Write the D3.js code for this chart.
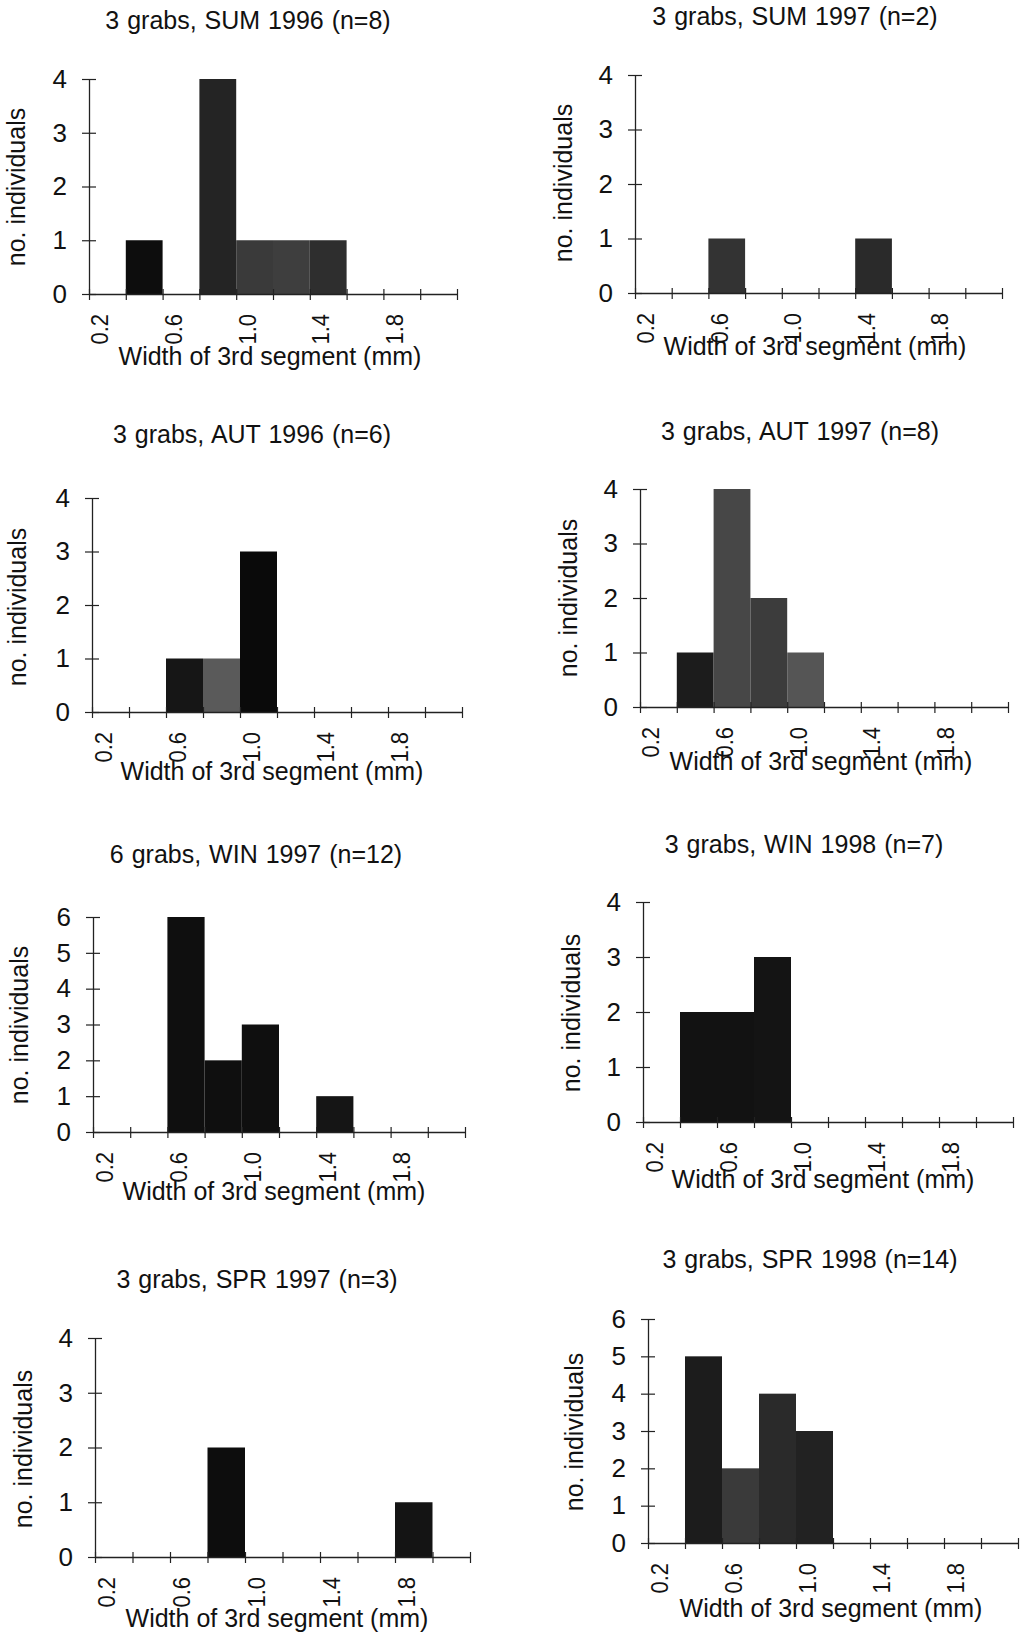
<!DOCTYPE html>
<html>
<head>
<meta charset="utf-8">
<script src="https://cdn.jsdelivr.net/npm/d3@7"></script>
<style>
  html, body { margin: 0; padding: 0; background: #fff; }
  svg { display: block; }
  text { font-family: "Liberation Sans", Arial, Helvetica, sans-serif; fill: #111; }
</style>
</head>
<body>
<svg id="chart" width="1021" height="1636"></svg>
<script>
// ---------------- DATA ----------------
const categories = [0.2, 0.4, 0.6, 0.8, 1.0, 1.2, 1.4, 1.6, 1.8, 2.0]; // bin centres (mm)
const xTickLabels = ["0.2", "0.6", "1.0", "1.4", "1.8"];
const panelTitles = [
  "3 grabs, SUM 1996 (n=8)", "3 grabs, SUM 1997 (n=2)",
  "3 grabs, AUT 1996 (n=6)", "3 grabs, AUT 1997 (n=8)",
  "6 grabs, WIN 1997 (n=12)", "3 grabs, WIN 1998 (n=7)",
  "3 grabs, SPR 1997 (n=3)", "3 grabs, SPR 1998 (n=14)"
];
const sum1996 = [0, 1, 0, 4, 1, 1, 1, 0, 0, 0];
const sum1997 = [0, 0, 1, 0, 0, 0, 1, 0, 0, 0];
const aut1996 = [0, 0, 1, 1, 3, 0, 0, 0, 0, 0];
const aut1997 = [0, 1, 4, 2, 1, 0, 0, 0, 0, 0];
const win1997 = [0, 0, 6, 2, 3, 0, 1, 0, 0, 0];
const win1998 = [0, 2, 2, 3, 0, 0, 0, 0, 0, 0];
const spr1997 = [0, 0, 0, 2, 0, 0, 0, 0, 1, 0];
const spr1998 = [0, 5, 2, 4, 3, 0, 0, 0, 0, 0];
const yMaxima = [4, 4, 4, 4, 6, 4, 4, 6];
const xAxisTitle = "Width of 3rd segment (mm)";
const yAxisTitle = "no. individuals";

const series = [sum1996, sum1997, aut1996, aut1997, win1997, win1998, spr1997, spr1998];

// ---------------- LAYOUT / STYLE ----------------
const layout = [
  { x0: 89,  x1: 457,  y0: 294,  yT: 79,   tX: 248, tY: 29,   xtX: 270, xtY: 365,  ytX: 25,  ytY: 187 },
  { x0: 635, x1: 1002, y0: 293,  yT: 75,   tX: 795, tY: 25,   xtX: 815, xtY: 355,  ytX: 572, ytY: 183 },
  { x0: 92,  x1: 462,  y0: 712,  yT: 498,  tX: 252, tY: 443,  xtX: 272, xtY: 780,  ytX: 26,  ytY: 607 },
  { x0: 640, x1: 1008, y0: 707,  yT: 489,  tX: 800, tY: 440,  xtX: 821, xtY: 770,  ytX: 577, ytY: 598 },
  { x0: 93,  x1: 465,  y0: 1132, yT: 917,  tX: 256, tY: 863,  xtX: 274, xtY: 1200, ytX: 28,  ytY: 1025 },
  { x0: 643, x1: 1013, y0: 1122, yT: 902,  tX: 804, tY: 853,  xtX: 823, xtY: 1188, ytX: 580, ytY: 1013 },
  { x0: 95,  x1: 470,  y0: 1557, yT: 1338, tX: 257, tY: 1288, xtX: 277, xtY: 1627, ytX: 32,  ytY: 1449 },
  { x0: 648, x1: 1018, y0: 1543, yT: 1319, tX: 810, tY: 1268, xtX: 831, xtY: 1617, ytX: 583, ytY: 1432 }
];
const shades = [
  ["#111", "#0d0d0d", "#111", "#242424", "#3a3a3a", "#3e3e3e", "#2e2e2e", "#111", "#111", "#111"],
  ["#333", "#333", "#333", "#333", "#333", "#333", "#2a2a2a", "#333", "#333", "#333"],
  ["#111", "#111", "#161616", "#5a5a5a", "#0a0a0a", "#111", "#111", "#111", "#111", "#111"],
  ["#222", "#1c1c1c", "#474747", "#3c3c3c", "#555", "#222", "#222", "#222", "#222", "#222"],
  ["#0f0f0f", "#0f0f0f", "#0f0f0f", "#0f0f0f", "#0f0f0f", "#0f0f0f", "#151515", "#0f0f0f", "#0f0f0f", "#0f0f0f"],
  ["#111", "#121212", "#121212", "#141414", "#111", "#111", "#111", "#111", "#111", "#111"],
  ["#0d0d0d", "#0d0d0d", "#0d0d0d", "#0d0d0d", "#0d0d0d", "#0d0d0d", "#0d0d0d", "#0d0d0d", "#141414", "#0d0d0d"],
  ["#1a1a1a", "#1c1c1c", "#3a3a3a", "#2a2a2a", "#222", "#1a1a1a", "#1a1a1a", "#1a1a1a", "#1a1a1a", "#1a1a1a"]
];

const svg = d3.select("#chart");
const halfBin = 0.1;

series.forEach((vals, i) => {
  const L = layout[i];
  const g = svg.append("g");

  const x = d3.scaleLinear()
    .domain([categories[0] - halfBin, categories[categories.length - 1] + halfBin])
    .range([L.x0, L.x1]);
  const y = d3.scaleLinear().domain([0, yMaxima[i]]).range([L.y0, L.yT]);

  // bars
  const data = categories.map((c, k) => ({ c, v: vals[k], k }));
  g.selectAll("rect.bar")
    .data(data.filter(d => d.v > 0))
    .join("rect")
    .attr("class", "bar")
    .attr("x", d => x(d.c - halfBin))
    .attr("width", d => x(d.c + halfBin) - x(d.c - halfBin))
    .attr("y", d => y(d.v))
    .attr("height", d => y(0) - y(d.v))
    .attr("fill", d => shades[i][d.k]);

  // x axis (ticks at bin edges)
  const edges = categories.map(c => c - halfBin).concat([categories[categories.length - 1] + halfBin]);
  const xAxis = g.append("g")
    .attr("transform", `translate(0,${L.y0})`)
    .call(d3.axisBottom(x).tickValues(edges).tickFormat("").tickSizeOuter(0));
  xAxis.select(".domain").attr("stroke", "#222").attr("stroke-width", 1.3);
  xAxis.selectAll(".tick line").attr("y1", -5).attr("y2", 6).attr("stroke", "#222").attr("stroke-width", 1.2);

  // x tick labels (rotated, centred in their bins)
  g.selectAll("text.xl")
    .data(xTickLabels)
    .join("text")
    .attr("class", "xl")
    .attr("transform", d => `translate(${x(+d) + 1},${L.y0 + 20}) rotate(-90) scale(1,1.12)`)
    .attr("text-anchor", "end")
    .attr("font-size", 22)
    .text(d => d);

  // y axis
  const yAxis = g.append("g")
    .attr("transform", `translate(${L.x0},0)`)
    .call(d3.axisLeft(y).ticks(yMaxima[i]).tickFormat(d3.format("d")).tickSizeOuter(0).tickPadding(14));
  yAxis.select(".domain").attr("stroke", "#222").attr("stroke-width", 1.3);
  yAxis.selectAll(".tick line").attr("x1", -7).attr("x2", 7).attr("stroke", "#222").attr("stroke-width", 1.2);
  yAxis.selectAll(".tick text")
    .attr("x", -22)
    .attr("font-size", 26)
    .attr("font-family", "Liberation Sans, Arial, sans-serif")
    .attr("fill", "#111");

  // titles
  g.append("text")
    .attr("x", L.tX).attr("y", L.tY)
    .attr("text-anchor", "middle")
    .attr("font-size", 25)
    .attr("word-spacing", 1)
    .text(panelTitles[i]);

  g.append("text")
    .attr("x", L.xtX).attr("y", L.xtY)
    .attr("text-anchor", "middle")
    .attr("font-size", 25)
    .text(xAxisTitle);

  g.append("text")
    .attr("transform", `translate(${L.ytX},${L.ytY}) rotate(-90)`)
    .attr("text-anchor", "middle")
    .attr("font-size", 25)
    .text(yAxisTitle);
});
</script>
</body>
</html>
